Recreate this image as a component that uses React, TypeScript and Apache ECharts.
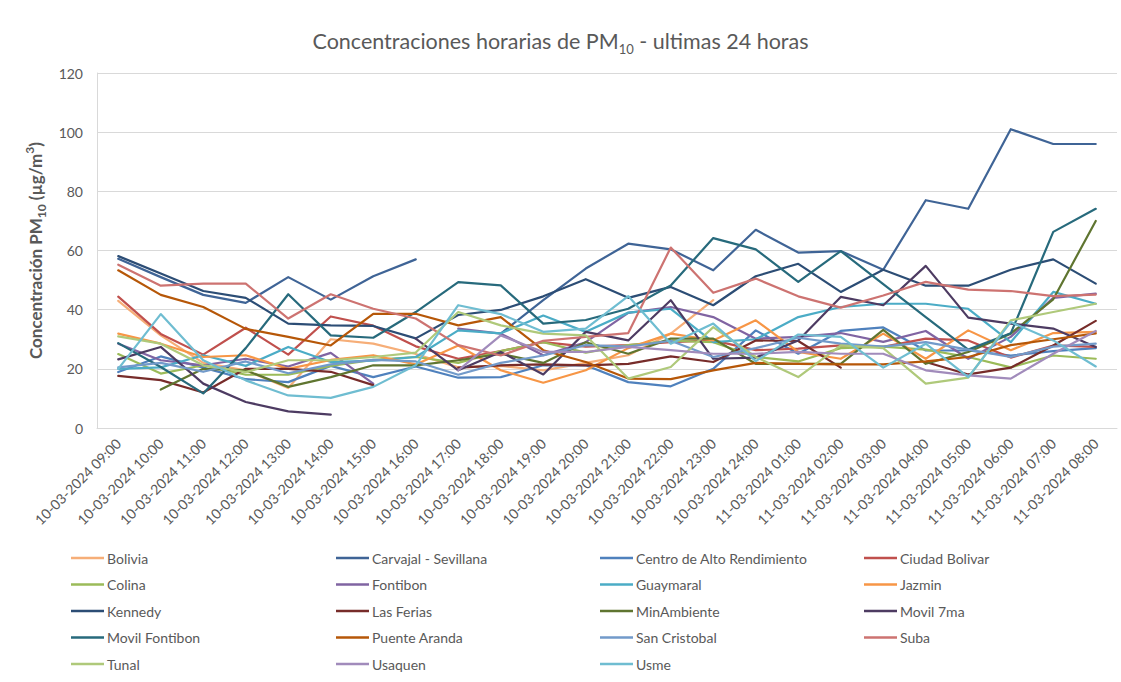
import { useEffect, useRef } from 'react';
import * as echarts from 'echarts';

const categories = [
  '10-03-2024 09:00', '10-03-2024 10:00', '10-03-2024 11:00', '10-03-2024 12:00',
  '10-03-2024 13:00', '10-03-2024 14:00', '10-03-2024 15:00', '10-03-2024 16:00',
  '10-03-2024 17:00', '10-03-2024 18:00', '10-03-2024 19:00', '10-03-2024 20:00',
  '10-03-2024 21:00', '10-03-2024 22:00', '10-03-2024 23:00', '10-03-2024 24:00',
  '11-03-2024 01:00', '11-03-2024 02:00', '11-03-2024 03:00', '11-03-2024 04:00',
  '11-03-2024 05:00', '11-03-2024 06:00', '11-03-2024 07:00', '11-03-2024 08:00',
];

const yTicks = { min: 0, max: 120, interval: 20 };

const bolivia = [43, 31.3, 22, 19.5, 13.5, 30, 28.5, 25, 20.5, 21, 19.5, 22, 24.6, 31.9, 43.2, null, null, null, null, null, null, null, null, null];
const carvajal = [57.2, 51, 45, 42.3, 51, 43.4, 51.3, 57, null, 31.9, 43.2, 53.9, 62.3, 60.4, 53.3, 67, 59.3, 59.8, 53.5, 77, 74.1, 101, 96, 96];
const centroAlto = [18.9, 24.2, 20.4, 16.5, 15.5, 21, 17.2, 20.8, 17, 17.2, 21.2, 21.2, 15.5, 14.1, 20, 33, 25.1, 32.8, 34, 26.2, 26.2, 24.5, 26, 27];
const ciudadBolivar = [44.4, 31.8, 24.8, 33.9, 24.8, 37.7, 34.6, 27.6, 23.4, 26, 29, 27.5, 28, 29, 29.6, 26.3, 26.8, 27.9, 27.4, 30.2, 29.6, 23.8, 27.9, 27.4];
const colina = [25, 18.4, 21.2, 18, 18, 21, 23, 24, 22, 26, 29, 25.5, 28, 29.5, 29, 24, 22.5, 27, 27.5, 26.5, 24, 20.5, 24.5, 23.4];
const fontibon = [28.5, 22.9, 21.2, 23.4, 20.8, 25.4, 15, null, 33.6, 31.9, 24.6, 29, 38.9, 40.9, 37.5, 30.2, 30.8, 32.1, 29.1, 32.8, 23.4, 30.8, 44, 45.4];
const guaymaral = [20, 20.5, 24.6, 21, 27.4, 22.3, 22.8, 24, 33, 32, 38, 32.5, 39, 40.3, 29, 30, 37.5, 40.9, 42, 42, 40.3, 29, 46, 42];
const jazmin = [31.9, 28.5, 24, 24.6, 20, 23, 24.6, 21.5, 27.9, 19.5, 15.3, 19.5, 27, 31.9, 29.6, 36.4, 25.7, 23.4, 31.9, 23.4, 33, 26.3, 32.1, 32.5];
const kennedy = [58.1, 52.2, 46.3, 44, 35.3, 34.7, 34.5, 30.3, 38.2, 39.9, 44.5, 50.3, 44, 47.7, 41.5, 51.3, 55.5, 46, 53.5, 48.1, 48.1, 53.5, 57, 48.8];
const lasFerias = [17.6, 16.2, 12, 20, 20, 19, 14.5, null, 20.4, 21.2, 21.5, 21.2, 21.7, 24.2, 22.3, 29.6, 29.4, 20.4, null, 22.3, 18.1, 20.4, 27.9, 36.2];
const minAmbiente = [null, 13, 20, 19.5, 13.9, 17.2, 21.2, 21.2, 22.9, 25.1, 22, 29, 25.1, 30.2, 30.2, 21.7, 21.7, 21.7, 33.2, 21.7, 25.7, 31.9, 43.5, 70];
const movil7ma = [23.2, 27.4, 15, 8.8, 5.6, 4.5, null, 30.2, 19.5, 25.7, 18.1, 32.5, 29.6, 43.2, 23.4, 23.8, 29.6, 44.3, 41.5, 54.8, 37.3, 35.3, 33.6, 27.4];
const movilFontibon = [28.7, 20.6, 11.7, 27, 45.2, 31.3, 30.5, 39.2, 49.3, 48.2, 35.3, 36.5, 40.3, 48.2, 64.2, 60.4, 49.4, 59.8, 48.6, 37.5, 26.5, 32, 66.3, 74.1];
const puenteAranda = [53.3, 45, 40.9, 33.5, 30.8, 27.9, 38.6, 38.6, 34.7, 37.5, 26.3, 22.3, 16.7, 16.5, 19.5, 22, 21.7, 21.5, 21.5, 22.5, 24, 28, 30, 32];
const sanCristobal = [20.5, 22, 19, 22.5, 18.5, 21.5, 23, 22.5, 18, 22, 24.5, 28, 27.5, 29.5, 24, 27, 30.5, 28.5, 27.5, 29, 26.5, 24, 27.5, 28.5];
const suba = [55.2, 48.1, 48.8, 48.8, 37, 45.2, 40.3, 37, 28, 24.5, 29.5, 30.8, 32.1, 61, 45.7, 50.5, 44.5, 40.7, 44.8, 49.4, 46.8, 46.3, 44.6, 45.1];
const tunal = [31, 28.5, 21.2, 18.9, 22.9, 22.9, 24, 25.5, 39.2, 34.7, 31.9, 31.3, 16.7, 20.6, 34.1, 24, 17.2, 27.9, 27, 15, 17, 36.4, 39.2, 42];
const usaquen = [null, null, null, null, null, null, null, null, 19.5, 31.3, 25.7, 25.7, 27.4, 26.3, 25.1, 25.1, 25.7, 25.1, 25.1, 19.5, 17.8, 16.7, 25.1, 32.8];
const usme = [20, 38.5, 22.9, 16.1, 11, 10.2, 13.9, 21.2, 41.5, 38.5, 32.5, 33.6, 44.6, 28.5, 35.3, 22.6, 31.6, 30.8, 20.4, 28.5, 17.2, 35.8, 29.6, 20.8];

const stations = [
  { name: 'Bolivia', data: bolivia, color: '#F6AE78' },
  { name: 'Carvajal - Sevillana', data: carvajal, color: '#3F6496' },
  { name: 'Centro de Alto Rendimiento', data: centroAlto, color: '#4F81BD' },
  { name: 'Ciudad Bolivar', data: ciudadBolivar, color: '#C0504D' },
  { name: 'Colina', data: colina, color: '#9BBB59' },
  { name: 'Fontibon', data: fontibon, color: '#8064A2' },
  { name: 'Guaymaral', data: guaymaral, color: '#4BACC6' },
  { name: 'Jazmin', data: jazmin, color: '#F79646' },
  { name: 'Kennedy', data: kennedy, color: '#2C4D75' },
  { name: 'Las Ferias', data: lasFerias, color: '#772C2A' },
  { name: 'MinAmbiente', data: minAmbiente, color: '#5F7530' },
  { name: 'Movil 7ma', data: movil7ma, color: '#4D3B62' },
  { name: 'Movil Fontibon', data: movilFontibon, color: '#276A7C' },
  { name: 'Puente Aranda', data: puenteAranda, color: '#B65708' },
  { name: 'San Cristobal', data: sanCristobal, color: '#729ACA' },
  { name: 'Suba', data: suba, color: '#CD7371' },
  { name: 'Tunal', data: tunal, color: '#AFC97A' },
  { name: 'Usaquen', data: usaquen, color: '#A18BBB' },
  { name: 'Usme', data: usme, color: '#6FBDD1' },
];

const FONT = 'Lato, "Noto Sans", sans-serif';
const GREY = '#595959';

export default function App() {
  const ref = useRef<HTMLDivElement>(null);

  useEffect(() => {
    document.body.style.margin = '0';
    if (!ref.current) return;
    const chart = echarts.init(ref.current, null, { renderer: 'svg' });

    const names = stations.map((s) => s.name);
    const columns = [0, 1, 2, 3].map((c) => names.filter((_, i) => i % 4 === c));
    const colLeft = [71, 336, 600, 864];

    const legends = columns.map((col, c) => ({
      data: col,
      orient: 'vertical',
      left: colLeft[c],
      top: 551,
      icon: 'rect',
      itemWidth: 33,
      itemHeight: 2.5,
      itemGap: 12.5,
      padding: 0,
      textStyle: { fontFamily: FONT, fontSize: 14, color: GREY, lineHeight: 14, padding: [0, 0, 0, -2] },
    }));

    chart.setOption({
      animation: false,
      backgroundColor: '#ffffff',
      title: {
        text: '{a|Concentraciones horarias de PM}{sub|10}{a| - ultimas 24 horas}',
        left: 'center',
        top: 22,
        textStyle: {
          fontWeight: 'normal',
          rich: {
            a: { fontFamily: FONT, fontSize: 21.5, fontWeight: 'normal', color: GREY, lineHeight: 28 },
            sub: { fontFamily: FONT, fontSize: 13, fontWeight: 'normal', color: GREY, lineHeight: 15, verticalAlign: 'bottom' },
          },
        },
      },
      legend: legends,
      grid: { left: 97, right: 4, top: 73, bottom: 254, containLabel: false },
      xAxis: {
        type: 'category',
        data: categories,
        boundaryGap: true,
        axisLine: { show: true, lineStyle: { color: '#d9d9d9', width: 1 } },
        axisTick: { show: false },
        axisLabel: { rotate: 45, interval: 0, fontFamily: FONT, fontSize: 14, color: GREY, margin: 13 },
        splitLine: { show: false },
      },
      yAxis: {
        type: 'value',
        min: yTicks.min,
        max: yTicks.max,
        interval: yTicks.interval,
        axisLine: { show: true, lineStyle: { color: '#d9d9d9', width: 1 } },
        axisTick: { show: false },
        axisLabel: { fontFamily: FONT, fontSize: 14, color: GREY, margin: 14 },
        splitLine: { show: true, lineStyle: { color: '#d9d9d9', width: 1 } },
        name: 'Concentración PM{sub|10} (µg/m{sup|3})',
        nameLocation: 'middle',
        nameRotate: 90,
        nameGap: 31,
        nameTextStyle: {
          fontFamily: FONT,
          fontSize: 17,
          fontWeight: 'bold',
          color: GREY,
          lineHeight: 24,
          rich: {
            sub: { fontFamily: FONT, fontSize: 12, fontWeight: 'bold', color: GREY, lineHeight: 13, verticalAlign: 'bottom' },
            sup: { fontFamily: FONT, fontSize: 12, fontWeight: 'bold', color: GREY, lineHeight: 13, verticalAlign: 'top' },
          },
        },
      },
      series: stations.map((s) => ({
        name: s.name,
        type: 'line',
        data: s.data,
        symbol: 'none',
        showSymbol: false,
        connectNulls: false,
        color: s.color,
        lineStyle: { color: s.color, width: 2.2, cap: 'round', join: 'round' },
        emphasis: { disabled: true },
      })),
    });

    return () => chart.dispose();
  }, []);

  return <div ref={ref} style={{ width: 1121, height: 682 }} />;
}
